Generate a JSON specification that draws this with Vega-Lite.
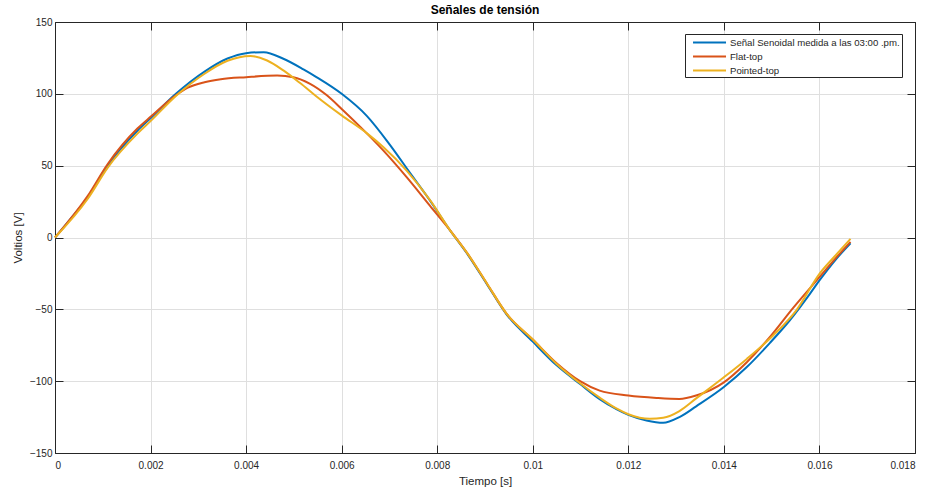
{
  "$schema": "https://vega.github.io/schema/vega-lite/v6.json",
  "width": 860,
  "height": 431,
  "autosize": {"type": "none"},
  "padding": {"left": 55, "top": 22, "right": 18, "bottom": 38},
  "background": "white",
  "title": {"text": "Señales de tensión", "font": "Liberation Sans", "fontSize": 12, "fontWeight": "bold", "color": "#000000", "anchor": "middle", "offset": 0},
  "data": {"values": [
    {"t": 0, "v": 0, "s": "Señal Senoidal medida a las 03:00 .pm."},
    {"t": 0.0003, "v": 12, "s": "Señal Senoidal medida a las 03:00 .pm."},
    {"t": 0.000686, "v": 28, "s": "Señal Senoidal medida a las 03:00 .pm."},
    {"t": 0.0011, "v": 50, "s": "Señal Senoidal medida a las 03:00 .pm."},
    {"t": 0.00173, "v": 74.5, "s": "Señal Senoidal medida a las 03:00 .pm."},
    {"t": 0.002, "v": 83, "s": "Señal Senoidal medida a las 03:00 .pm."},
    {"t": 0.00253, "v": 100, "s": "Señal Senoidal medida a las 03:00 .pm."},
    {"t": 0.00313, "v": 115.5, "s": "Señal Senoidal medida a las 03:00 .pm."},
    {"t": 0.00361, "v": 124.6, "s": "Señal Senoidal medida a las 03:00 .pm."},
    {"t": 0.004, "v": 128.3, "s": "Señal Senoidal medida a las 03:00 .pm."},
    {"t": 0.00437, "v": 129, "s": "Señal Senoidal medida a las 03:00 .pm."},
    {"t": 0.00478, "v": 124.4, "s": "Señal Senoidal medida a las 03:00 .pm."},
    {"t": 0.0052, "v": 117, "s": "Señal Senoidal medida a las 03:00 .pm."},
    {"t": 0.00548, "v": 111.5, "s": "Señal Senoidal medida a las 03:00 .pm."},
    {"t": 0.006, "v": 100, "s": "Señal Senoidal medida a las 03:00 .pm."},
    {"t": 0.00653, "v": 84.5, "s": "Señal Senoidal medida a las 03:00 .pm."},
    {"t": 0.00701, "v": 64.5, "s": "Señal Senoidal medida a las 03:00 .pm."},
    {"t": 0.00743, "v": 45, "s": "Señal Senoidal medida a las 03:00 .pm."},
    {"t": 0.00785, "v": 25.7, "s": "Señal Senoidal medida a las 03:00 .pm."},
    {"t": 0.00827, "v": 4.9, "s": "Señal Senoidal medida a las 03:00 .pm."},
    {"t": 0.00862, "v": -11, "s": "Señal Senoidal medida a las 03:00 .pm."},
    {"t": 0.00904, "v": -32.5, "s": "Señal Senoidal medida a las 03:00 .pm."},
    {"t": 0.00945, "v": -53.5, "s": "Señal Senoidal medida a las 03:00 .pm."},
    {"t": 0.01, "v": -72.5, "s": "Señal Senoidal medida a las 03:00 .pm."},
    {"t": 0.0105, "v": -89, "s": "Señal Senoidal medida a las 03:00 .pm."},
    {"t": 0.01099, "v": -102, "s": "Señal Senoidal medida a las 03:00 .pm."},
    {"t": 0.0114, "v": -112.5, "s": "Señal Senoidal medida a las 03:00 .pm."},
    {"t": 0.01175, "v": -119.5, "s": "Señal Senoidal medida a las 03:00 .pm."},
    {"t": 0.012, "v": -123.5, "s": "Señal Senoidal medida a las 03:00 .pm."},
    {"t": 0.01238, "v": -127.4, "s": "Señal Senoidal medida a las 03:00 .pm."},
    {"t": 0.01273, "v": -129, "s": "Señal Senoidal medida a las 03:00 .pm."},
    {"t": 0.01307, "v": -125, "s": "Señal Senoidal medida a las 03:00 .pm."},
    {"t": 0.01342, "v": -117.5, "s": "Señal Senoidal medida a las 03:00 .pm."},
    {"t": 0.014, "v": -104.1, "s": "Señal Senoidal medida a las 03:00 .pm."},
    {"t": 0.01448, "v": -90.2, "s": "Señal Senoidal medida a las 03:00 .pm."},
    {"t": 0.01496, "v": -73.5, "s": "Señal Senoidal medida a las 03:00 .pm."},
    {"t": 0.01538, "v": -57.6, "s": "Señal Senoidal medida a las 03:00 .pm."},
    {"t": 0.0158, "v": -39.2, "s": "Señal Senoidal medida a las 03:00 .pm."},
    {"t": 0.016, "v": -29.9, "s": "Señal Senoidal medida a las 03:00 .pm."},
    {"t": 0.01635, "v": -15, "s": "Señal Senoidal medida a las 03:00 .pm."},
    {"t": 0.01665, "v": -4, "s": "Señal Senoidal medida a las 03:00 .pm."},
    {"t": 0, "v": 0, "s": "Flat-top"},
    {"t": 0.000686, "v": 29, "s": "Flat-top"},
    {"t": 0.0011, "v": 51, "s": "Flat-top"},
    {"t": 0.00173, "v": 76, "s": "Flat-top"},
    {"t": 0.002, "v": 84, "s": "Flat-top"},
    {"t": 0.00253, "v": 99, "s": "Flat-top"},
    {"t": 0.00278, "v": 104.3, "s": "Flat-top"},
    {"t": 0.00313, "v": 108.1, "s": "Flat-top"},
    {"t": 0.00347, "v": 110.2, "s": "Flat-top"},
    {"t": 0.004, "v": 111.6, "s": "Flat-top"},
    {"t": 0.00465, "v": 112.7, "s": "Flat-top"},
    {"t": 0.00499, "v": 111.6, "s": "Flat-top"},
    {"t": 0.00534, "v": 107, "s": "Flat-top"},
    {"t": 0.00569, "v": 99, "s": "Flat-top"},
    {"t": 0.006, "v": 89.5, "s": "Flat-top"},
    {"t": 0.00639, "v": 77, "s": "Flat-top"},
    {"t": 0.00687, "v": 60.6, "s": "Flat-top"},
    {"t": 0.00736, "v": 42, "s": "Flat-top"},
    {"t": 0.00785, "v": 22, "s": "Flat-top"},
    {"t": 0.00827, "v": 5, "s": "Flat-top"},
    {"t": 0.00862, "v": -10.5, "s": "Flat-top"},
    {"t": 0.00904, "v": -32, "s": "Flat-top"},
    {"t": 0.00945, "v": -53, "s": "Flat-top"},
    {"t": 0.01, "v": -71, "s": "Flat-top"},
    {"t": 0.0105, "v": -87.5, "s": "Flat-top"},
    {"t": 0.01099, "v": -100, "s": "Flat-top"},
    {"t": 0.0114, "v": -106.6, "s": "Flat-top"},
    {"t": 0.012, "v": -110, "s": "Flat-top"},
    {"t": 0.01259, "v": -111.7, "s": "Flat-top"},
    {"t": 0.01307, "v": -112.4, "s": "Flat-top"},
    {"t": 0.01342, "v": -110, "s": "Flat-top"},
    {"t": 0.014, "v": -100.8, "s": "Flat-top"},
    {"t": 0.01448, "v": -86.8, "s": "Flat-top"},
    {"t": 0.01496, "v": -69.4, "s": "Flat-top"},
    {"t": 0.01545, "v": -49, "s": "Flat-top"},
    {"t": 0.016, "v": -27.6, "s": "Flat-top"},
    {"t": 0.01635, "v": -14, "s": "Flat-top"},
    {"t": 0.01665, "v": -3, "s": "Flat-top"},
    {"t": 0, "v": 0, "s": "Pointed-top"},
    {"t": 0.000686, "v": 27, "s": "Pointed-top"},
    {"t": 0.0011, "v": 48.5, "s": "Pointed-top"},
    {"t": 0.00173, "v": 72.5, "s": "Pointed-top"},
    {"t": 0.002, "v": 81, "s": "Pointed-top"},
    {"t": 0.00253, "v": 98.5, "s": "Pointed-top"},
    {"t": 0.00313, "v": 114, "s": "Pointed-top"},
    {"t": 0.00361, "v": 123, "s": "Pointed-top"},
    {"t": 0.00409, "v": 126.4, "s": "Pointed-top"},
    {"t": 0.00444, "v": 123.2, "s": "Pointed-top"},
    {"t": 0.00478, "v": 116.3, "s": "Pointed-top"},
    {"t": 0.00513, "v": 107.5, "s": "Pointed-top"},
    {"t": 0.00548, "v": 98, "s": "Pointed-top"},
    {"t": 0.006, "v": 85, "s": "Pointed-top"},
    {"t": 0.00653, "v": 72.5, "s": "Pointed-top"},
    {"t": 0.00687, "v": 63, "s": "Pointed-top"},
    {"t": 0.00736, "v": 46.6, "s": "Pointed-top"},
    {"t": 0.00785, "v": 26, "s": "Pointed-top"},
    {"t": 0.00827, "v": 5, "s": "Pointed-top"},
    {"t": 0.00862, "v": -10.5, "s": "Pointed-top"},
    {"t": 0.00904, "v": -32, "s": "Pointed-top"},
    {"t": 0.00945, "v": -53, "s": "Pointed-top"},
    {"t": 0.01, "v": -71, "s": "Pointed-top"},
    {"t": 0.0105, "v": -88, "s": "Pointed-top"},
    {"t": 0.01099, "v": -101.5, "s": "Pointed-top"},
    {"t": 0.0114, "v": -111.5, "s": "Pointed-top"},
    {"t": 0.01175, "v": -119, "s": "Pointed-top"},
    {"t": 0.012, "v": -123, "s": "Pointed-top"},
    {"t": 0.01245, "v": -126.2, "s": "Pointed-top"},
    {"t": 0.01273, "v": -125.5, "s": "Pointed-top"},
    {"t": 0.01307, "v": -120.8, "s": "Pointed-top"},
    {"t": 0.01342, "v": -112, "s": "Pointed-top"},
    {"t": 0.014, "v": -97.3, "s": "Pointed-top"},
    {"t": 0.01448, "v": -84.5, "s": "Pointed-top"},
    {"t": 0.01503, "v": -68.2, "s": "Pointed-top"},
    {"t": 0.01552, "v": -50.5, "s": "Pointed-top"},
    {"t": 0.016, "v": -25.3, "s": "Pointed-top"},
    {"t": 0.01635, "v": -12, "s": "Pointed-top"},
    {"t": 0.01665, "v": -1, "s": "Pointed-top"}
  ]},
  "layer": [
    {
      "mark": {"type": "line", "strokeWidth": 2, "interpolate": "monotone"},
      "encoding": {
        "x": {"field": "t", "type": "quantitative",
              "scale": {"domain": [0, 0.018], "nice": false, "zero": false},
              "axis": {"orient": "bottom", "values": [0, 0.002, 0.004, 0.006, 0.008, 0.01, 0.012, 0.014, 0.016, 0.018], "format": "~f", "title": "Tiempo [s]", "titleX": 430, "titleY": 28, "titleBaseline": "middle", "labelPadding": 15, "tickSize": -8, "grid": true}},
        "y": {"field": "v", "type": "quantitative",
              "scale": {"domain": [-150, 150], "nice": false, "zero": false},
              "axis": {"orient": "left", "values": [-150, -100, -50, 0, 50, 100, 150], "title": "Voltios [V]", "titleX": -37, "titleY": 215.5, "titleBaseline": "middle", "labelPadding": 11, "tickSize": -8, "grid": true}},
        "color": {"field": "s", "type": "nominal",
                  "scale": {"domain": ["Señal Senoidal medida a las 03:00 .pm.", "Flat-top", "Pointed-top"], "range": ["#0072BD", "#D95319", "#EDB120"]},
                  "legend": {"title": null, "orient": "none", "legendX": 630, "legendY": 12, "symbolType": "M-0.08,0H5.42", "symbolSize": 144, "symbolStrokeWidth": 2, "labelOffset": 29.5, "labelFontSize": 9.6, "labelFont": "Liberation Sans", "labelColor": "#262626", "labelLimit": 400, "padding": 1.5, "rowPadding": 2, "strokeColor": "#262626", "fillColor": "#ffffff"}}
      }
    },
    {
      "mark": {"type": "line", "opacity": 0},
      "encoding": {
        "x": {"field": "t", "type": "quantitative",
              "axis": {"orient": "top", "values": [0, 0.002, 0.004, 0.006, 0.008, 0.01, 0.012, 0.014, 0.016, 0.018], "labels": false, "title": null, "tickSize": -8, "grid": false}},
        "y": {"field": "v", "type": "quantitative",
              "axis": {"orient": "right", "values": [-150, -100, -50, 0, 50, 100, 150], "labels": false, "title": null, "tickSize": -8, "grid": false}}
      }
    }
  ],
  "resolve": {"axis": {"x": "independent", "y": "independent"}},
  "config": {
    "view": {"stroke": "#262626", "strokeWidth": 1},
    "font": "Liberation Sans",
    "axis": {
      "domainColor": "#262626",
      "tickColor": "#262626",
      "tickWidth": 1,
      "gridColor": "#dfdfdf",
      "gridWidth": 1,
      "labelFont": "Liberation Sans",
      "labelFontSize": 10,
      "labelColor": "#262626",
      "titleFont": "Liberation Sans",
      "titleFontSize": 11.5,
      "titleFontWeight": "normal",
      "titleColor": "#262626"
    }
  }
}
